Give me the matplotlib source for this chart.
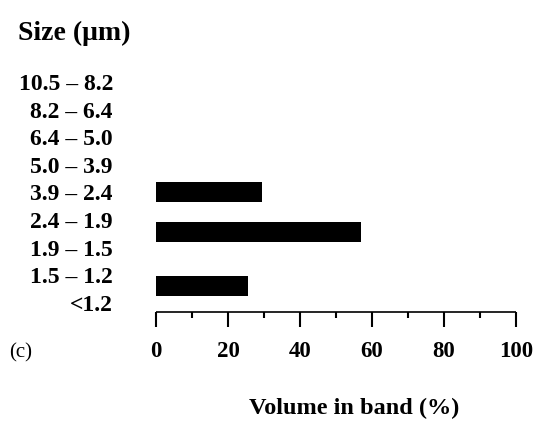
"""
Horizontal bar chart - volume in each particle size band, panel (c)
"""

import matplotlib
matplotlib.use('Agg')
import matplotlib.pyplot as plt
from matplotlib.ticker import MultipleLocator

# Size bands, top to bottom
size_bands = ['10.5 – 8.2', '8.2 – 6.4', '6.4 – 5.0', '5.0 – 3.9', '3.9 – 2.4',
              '2.4 – 1.9', '1.9 – 1.5', '1.5 – 1.2', '<1.2']
# Bars that show up, by band, with their volume (%)
bar_bands = ['3.9 – 2.4', '2.4 – 1.9', '1.5 – 1.2']
bar_volume = [29.4, 57.0, 25.5]
x_ticks = [0, 20, 40, 60, 80, 100]

# the bars in the scan sit a little below their labels
bar_nudge = [0.0, 0.42, 0.38]

plt.rcParams['font.family'] = ['Liberation Serif', 'DejaVu Serif']
plt.rcParams['font.weight'] = 'bold'

fig = plt.figure(figsize=(5.4, 4.24), dpi=100)
ax = fig.add_axes([0.2889, 0.2642, 0.6667, 0.575])

ypos = [size_bands.index(b) + n for b, n in zip(bar_bands, bar_nudge)]
ax.barh(ypos, bar_volume, height=0.72, color='black', left=0)

ax.set_xlim(0, 100)
ax.set_ylim(8.33, -0.5)
ax.set_xticks(x_ticks)
ax.set_xticklabels([str(t) for t in x_ticks], fontsize=16.5, fontweight='bold')
ax.xaxis.set_minor_locator(MultipleLocator(10))
ax.tick_params(axis='x', which='major', direction='out', length=11, width=1.5, pad=10)
ax.tick_params(axis='x', which='minor', direction='out', length=4.5, width=1.5)

ax.set_yticks(range(len(size_bands)))
ax.set_yticklabels(size_bands, fontsize=17, fontweight='bold')
ax.tick_params(axis='y', length=0, pad=31)

for side in ['top', 'right', 'left']:
    ax.spines[side].set_visible(False)
ax.spines['bottom'].set_linewidth(1.2)
ax.spines['bottom'].set_capstyle('butt')

fig.text(18 / 540, 1 - 33 / 424, 'Size (μm)', fontsize=20, fontweight='bold',
         ha='left', va='center')
fig.text(9 / 540, 1 - 353 / 424, '(c)', fontsize=15, fontweight='normal',
         ha='left', va='center')
fig.text(354 / 540, 1 - 408 / 424, 'Volume in band (%)', fontsize=17.5,
         fontweight='bold', ha='center', va='center')

fig.savefig('out.png', dpi=100, facecolor='white')
plt.close(fig)
